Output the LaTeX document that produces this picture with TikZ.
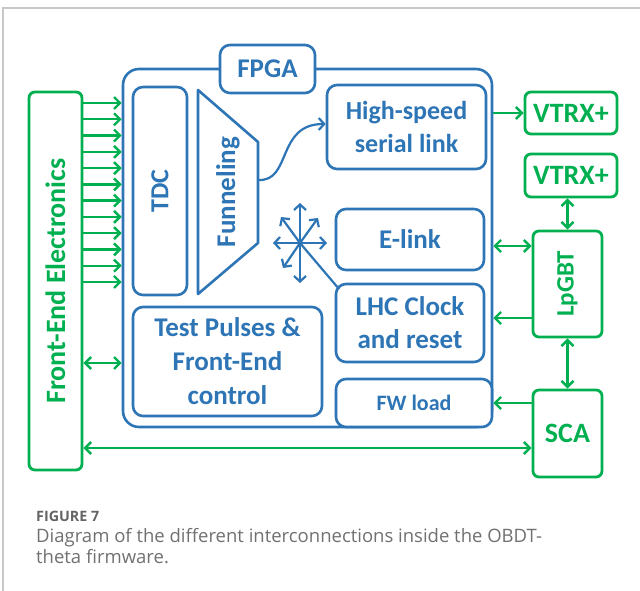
\documentclass[tikz,border=0pt]{standalone}
\usepackage{fontspec}
\setmainfont{Carlito}
\newfontfamily\capfont{Open Sans}
\usetikzlibrary{arrows.meta}
\definecolor{fpgablue}{RGB}{46,117,182}
\definecolor{linkgreen}{RGB}{0,176,80}
\definecolor{framegray}{RGB}{200,200,200}
\definecolor{capgray}{RGB}{112,112,112}
\definecolor{capdark}{RGB}{100,100,100}
\begin{document}
\begin{tikzpicture}[x=1pt,y=-1pt,
  bluefont/.style={font=\fontsize{27}{33}\selectfont\bfseries},
  bluebox/.style={draw=fpgablue,line width=2.6pt,rounded corners=10pt,fill=white,
    text=fpgablue,align=center,inner sep=0pt,bluefont},
  greenbox/.style={draw=linkgreen,line width=2.8pt,rounded corners=6pt,fill=white,
    text=linkgreen,align=center,inner sep=0pt,font=\fontsize{28}{33}\selectfont\bfseries},
  glink/.style={draw=linkgreen,line width=2.4pt,
    arrows={-Straight Barb[length=6pt,width=12pt]}},
  gboth/.style={glink,arrows={Straight Barb[length=6pt,width=12pt]-Straight Barb[length=6pt,width=12pt]}},
  blink/.style={draw=fpgablue,line width=2.2pt,
    arrows={-Straight Barb[length=5.5pt,width=12pt]}},
  bline/.style={draw=fpgablue,line width=2.2pt}]
\useasboundingbox (0,0) rectangle (640,591);

% page frame
\draw[framegray,line width=1.2pt] (3,591) -- (3,8) -- (640,8);

% FPGA enclosure and its label
\node[bluebox,rounded corners=16pt,minimum width=369pt,minimum height=358pt] (fpga) at (307.5,248) {};
\node[bluebox,minimum width=95pt,minimum height=48pt] (fpgalabel) at (267.5,69) {FPGA};

% blocks inside the FPGA
\node[bluebox,minimum width=54pt,minimum height=208pt] (tdc) at (160,191) {};
\node[text=fpgablue,rotate=90,font=\fontsize{26}{33}\selectfont\bfseries] at (tdc) {TDC};
\draw[fpgablue,line width=2.6pt,line join=round] (198,90) -- (258,142) -- (258,243) -- (198,294) -- cycle;
\node[text=fpgablue,rotate=90,bluefont] (funnel) at (228,192) {Funneling};
\coordinate (funout) at (258,180);
\node[bluebox,minimum width=159pt,minimum height=84pt,font=\fontsize{26}{33}\selectfont\bfseries] (hs) at (406.5,127) {High-speed\\serial link};
\node[bluebox,minimum width=148pt,minimum height=61pt] (elink) at (410,239.5) {E-link};
\node[bluebox,minimum width=148pt,minimum height=78pt] (lhc) at (410,323) {LHC Clock\\and reset};
\node[bluebox,minimum width=189pt,minimum height=109pt,font=\fontsize{27}{34}\selectfont\bfseries] (test) at (227.5,361.5) {Test Pulses \&\\Front-End\\control};
\node[bluebox,minimum width=156pt,minimum height=48pt,font=\fontsize{22}{28}\selectfont\bfseries] (fw) at (414,403) {FW load};

% funnel output to the serial link
\draw[blink] (funout) .. controls (292,182) and (276,124) .. (hs.west |- 0,124);

% distribution star
\coordinate (star) at (300,243);
\coordinate (sN) at (300,203);
\coordinate (sS) at (300,283);
\coordinate (sW) at (273,243);
\coordinate (sE) at (327,243);
\coordinate (sNE) at (318,218);
\coordinate (sNW) at (281,217);
\coordinate (sSW) at (283,268);
\foreach \t in {sN,sS,sW,sE,sNE,sNW,sSW} \draw[blink] (star) -- (\t);
\draw[bline] (star) -- (339,289);

% external components
\node[greenbox,minimum width=53pt,minimum height=378pt] (fe) at (55.5,281) {};
\node[text=linkgreen,rotate=90,font=\fontsize{28}{33}\selectfont\bfseries] at (fe) {Front-End Electronics};
\node[greenbox,minimum width=92pt,minimum height=42pt] (vtrxa) at (571,113) {VTRX+};
\node[greenbox,minimum width=92pt,minimum height=43pt] (vtrxb) at (571,175.5) {VTRX+};
\node[greenbox,minimum width=69pt,minimum height=106pt] (lpgbt) at (567.5,284) {};
\node[text=linkgreen,rotate=90,font=\fontsize{25}{30}\selectfont\bfseries] at (lpgbt) {LpGBT};
\node[greenbox,minimum width=69pt,minimum height=87pt] (sca) at (567.5,433.5) {SCA};

% front-end channels into the FPGA
\foreach \i in {0,...,11} {
  \pgfmathsetmacro{\yy}{103+16.27*\i}
  \draw[glink] (fe.east |- 0,\yy) -- (fpga.west |- 0,\yy);
}
\draw[gboth] (fe.east |- 0,363) -- (fpga.west |- 0,363);

% links on the right-hand side
\draw[glink] (fpga.east |- vtrxa.west) -- (vtrxa.west);
\draw[gboth] (lpgbt.north) -- (lpgbt.north |- vtrxb.south);
\draw[gboth] (fpga.east |- 0,246) -- (lpgbt.west |- 0,246);
\draw[glink] (lpgbt.west |- 0,318) -- (fpga.east |- 0,318);
\draw[gboth] (lpgbt.south) -- (sca.north);
\draw[glink] (sca.west |- 0,403) -- (fpga.east |- 0,403);
\draw[gboth] (fe.east |- 0,448) -- (sca.west |- 0,448);

% caption
\node[anchor=base west,inner sep=0pt,text=capdark,font=\capfont\fontsize{14.3}{17}\selectfont\bfseries] (capt) at (36,521) {FIGURE 7};
\node[anchor=base west,inner sep=0pt,text=capgray,font=\capfont\fontsize{18.5}{22}\selectfont] (capb) at (36,542)
  {Diagram of the different interconnections inside the OBDT-};
\node[anchor=base west,inner sep=0pt,text=capgray,font=\capfont\fontsize{18.5}{22}\selectfont] (capc) at (36,563)
  {theta firmware.};
\end{tikzpicture}
\end{document}
